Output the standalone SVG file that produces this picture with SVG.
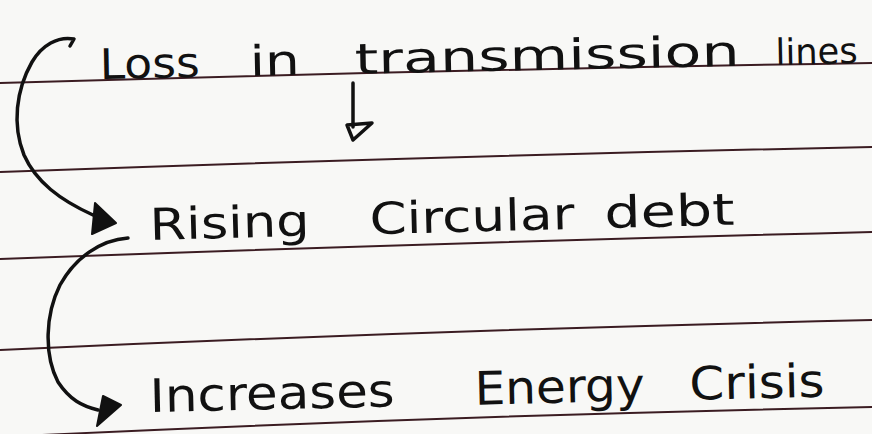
<svg xmlns="http://www.w3.org/2000/svg" width="872" height="434" viewBox="0 0 872 434">
  <style>
    .rule { fill: none; stroke: #3b1c22; stroke-width: 2; }
    .hand { font-family: "DejaVu Sans", "Liberation Sans", sans-serif; fill: #111; }
    .pen { fill: none; stroke: #111; stroke-width: 3.5; stroke-linecap: round; stroke-linejoin: round; }
    .head { fill: #111; stroke: #111; stroke-width: 2; stroke-linejoin: round; }
  </style>
  <rect x="0" y="0" width="872" height="434" fill="#f8f8f6"/>
  <g id="ruled-lines">
    <path class="rule" d="M0,83 Q436,70 872,63"/>
    <path class="rule" d="M0,172 Q436,156 872,147"/>
    <path class="rule" d="M0,259 Q436,243 872,232"/>
    <path class="rule" d="M0,350 Q436,330 872,320"/>
    <path class="rule" d="M0,437 Q436,416 872,407"/>
  </g>
  <g id="node-loss">
    <text class="hand" font-size="42" transform="rotate(-1.2 100 79)">
      <tspan x="100" y="79" textLength="100" lengthAdjust="spacingAndGlyphs">Loss</tspan>
      <tspan x="250" y="79" textLength="50" lengthAdjust="spacingAndGlyphs">in</tspan>
      <tspan x="355" y="79" textLength="385" lengthAdjust="spacingAndGlyphs">transmission</tspan>
      <tspan x="776" y="79" font-size="36" textLength="82" lengthAdjust="spacingAndGlyphs">lines</tspan>
    </text>
  </g>
  <g id="node-debt">
    <text class="hand" font-size="44" transform="rotate(-1.5 150 240)">
      <tspan x="150" y="240" textLength="160" lengthAdjust="spacingAndGlyphs">Rising</tspan>
      <tspan x="370" y="240" textLength="205" lengthAdjust="spacingAndGlyphs">Circular</tspan>
      <tspan x="605" y="240" textLength="130" lengthAdjust="spacingAndGlyphs">debt</tspan>
    </text>
  </g>
  <g id="node-crisis">
    <text class="hand" font-size="46" transform="rotate(-1.3 150 412)">
      <tspan x="150" y="412" textLength="245" lengthAdjust="spacingAndGlyphs">Increases</tspan>
      <tspan x="475" y="412" textLength="170" lengthAdjust="spacingAndGlyphs">Energy</tspan>
      <tspan x="690" y="412" textLength="135" lengthAdjust="spacingAndGlyphs">Crisis</tspan>
    </text>
  </g>
  <g id="connectors">
    <path class="pen" d="M353,83 L353,127"/>
    <polygon class="pen" points="347,125 372,123 353,140"/>
    <path class="pen" d="M70,46 L74,39 C58,36 42,45 32,62 C16,90 12,125 24,155 C36,182 60,200 93,215"/>
    <polygon class="head" points="95,203 116,223 92,234"/>
    <path class="pen" d="M128,238 C100,240 75,258 60,285 C45,315 44,355 58,382 C70,400 82,406 98,410"/>
    <polygon class="head" points="103,396 121,405 97,426"/>
  </g>
</svg>
